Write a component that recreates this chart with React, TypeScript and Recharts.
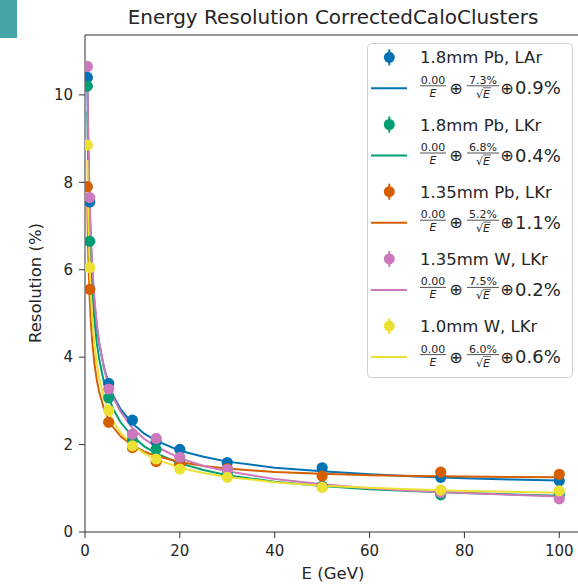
import React from 'react';
import {
  ComposedChart,
  Line,
  Scatter,
  XAxis,
  YAxis,
  ReferenceLine,
  Legend,
} from 'recharts';

// ---- data ----
const E_POINTS = [0.5, 1, 5, 10, 15, 20, 30, 50, 75, 100];

const seriesLabels = ['1.8mm Pb, LAr', '1.8mm Pb, LKr', '1.35mm Pb, LKr', '1.35mm W, LKr', '1.0mm W, LKr'];
const seriesColors = ['#0173B2', '#029E73', '#D55E00', '#CC78BC', '#ECE133'];
const noiseTerms = ['0.00', '0.00', '0.00', '0.00', '0.00'];
const stochasticTerms = ['7.3%', '6.8%', '5.2%', '7.5%', '6.0%'];
const constantTerms = ['0.9%', '0.4%', '1.1%', '0.2%', '0.6%'];

const blueRes = [10.4, 7.55, 3.4, 2.56, 2.07, 1.89, 1.59, 1.47, 1.25, 1.17];
const greenRes = [10.2, 6.65, 3.07, 2.1, 1.89, 1.58, 1.32, 1.05, 0.85, 0.86];
const orangeRes = [7.9, 5.55, 2.51, 1.93, 1.61, 1.55, 1.45, 1.28, 1.37, 1.32];
const pinkRes = [10.65, 7.65, 3.27, 2.24, 2.14, 1.71, 1.43, 1.03, 0.9, 0.76];
const yellowRes = [8.85, 6.05, 2.78, 1.97, 1.67, 1.44, 1.25, 1.02, 0.96, 0.94];

// fit curves
const FIT_E = [0.5, 0.6, 0.75, 1, 1.25, 1.5, 2, 2.5, 3, 4, 5, 6, 7.5, 10, 12.5, 15, 20, 25, 30, 40, 50, 60, 70, 80, 90, 100];
const blueFit = [10.36, 9.47, 8.48, 7.36, 6.59, 6.03, 5.24, 4.7, 4.31, 3.76, 3.39, 3.11, 2.81, 2.48, 2.25, 2.09, 1.86, 1.72, 1.61, 1.47, 1.39, 1.32, 1.27, 1.23, 1.2, 1.18];
const greenFit = [9.62, 8.79, 7.86, 6.81, 6.1, 5.57, 4.82, 4.32, 3.95, 3.42, 3.07, 2.8, 2.51, 2.19, 1.96, 1.8, 1.57, 1.42, 1.3, 1.15, 1.05, 0.98, 0.93, 0.89, 0.86, 0.83];
const orangeFit = [7.44, 6.8, 6.1, 5.32, 4.78, 4.39, 3.84, 3.47, 3.2, 2.82, 2.57, 2.39, 2.19, 1.98, 1.84, 1.74, 1.6, 1.51, 1.45, 1.37, 1.33, 1.3, 1.28, 1.27, 1.26, 1.25];
const pinkFit = [10.61, 9.68, 8.66, 7.5, 6.71, 6.13, 5.31, 4.75, 4.33, 3.76, 3.36, 3.07, 2.75, 2.38, 2.13, 1.95, 1.69, 1.51, 1.39, 1.21, 1.09, 1.0, 0.94, 0.89, 0.85, 0.81];
const yellowFit = [8.51, 7.77, 6.95, 6.03, 5.4, 4.94, 4.28, 3.84, 3.52, 3.06, 2.75, 2.52, 2.27, 1.99, 1.8, 1.66, 1.47, 1.35, 1.26, 1.14, 1.06, 1.01, 0.97, 0.94, 0.92, 0.9];

const X_TICKS = [0, 20, 40, 60, 80, 100];
const Y_TICKS = [0, 2, 4, 6, 8, 10];
const X_MAX = 105;
const Y_MAX = 11.37;

const pointSets = [blueRes, greenRes, orangeRes, pinkRes, yellowRes];
const fitSets = [blueFit, greenFit, orangeFit, pinkFit, yellowFit];

const toPoints = (xs: number[], ys: number[]) => xs.map((x, i) => ({ x, y: ys[i] }));

const FONT = '"DejaVu Sans", sans-serif';
const TXT = '#262626';

function FitFormula({ x0, cy, noise, stoch, cons, color }: any) {
  return (
    <g fontFamily={FONT} fill={TXT}>
      <line x1={4} x2={40} y1={cy} y2={cy} stroke={color} strokeWidth={2} />
      <text x={x0 + 13} y={cy - 4.5} fontSize={11} textAnchor="middle">{noise}</text>
      <line x1={x0} x2={x0 + 26} y1={cy - 2.5} y2={cy - 2.5} stroke={TXT} strokeWidth={0.8} />
      <text x={x0 + 13} y={cy + 8.5} fontSize={11} fontStyle="italic" textAnchor="middle">E</text>
      <text x={x0 + 36} y={cy + 5.5} fontSize={16} textAnchor="middle">⊕</text>
      <text x={x0 + 63} y={cy - 4.5} fontSize={11} textAnchor="middle">{stoch}</text>
      <line x1={x0 + 47} x2={x0 + 79} y1={cy - 2.5} y2={cy - 2.5} stroke={TXT} strokeWidth={0.8} />
      <text x={x0 + 63} y={cy + 9.5} fontSize={11} textAnchor="middle">
        <tspan>√</tspan>
        <tspan fontStyle="italic">E</tspan>
      </text>
      <line x1={x0 + 63} x2={x0 + 71} y1={cy - 0.5} y2={cy - 0.5} stroke={TXT} strokeWidth={0.7} />
      <text x={x0 + 87} y={cy + 5.5} fontSize={16} textAnchor="middle">⊕</text>
      <text x={x0 + 95} y={cy + 6} fontSize={18}>{cons}</text>
    </g>
  );
}

function CustomLegend() {
  return (
    <svg width={206} height={336} style={{ display: 'block' }}>
      <rect x={0.5} y={0.5} width={205} height={334} rx={4} fill="#fff" fillOpacity={0.85} stroke="#d0d0d0" />
      {seriesLabels.map((label, i) => {
        const my = 14.3 + 67.2 * i;
        const fy = my + 31;
        const c = seriesColors[i];
        return (
          <g key={label}>
            <line x1={22.3} x2={22.3} y1={my - 8} y2={my + 8} stroke={c} strokeWidth={2} />
            <circle cx={22.3} cy={my} r={5.5} fill={c} />
            <text x={53} y={my + 6} fontSize={16.5} fontFamily={FONT} fill={TXT}>{label}</text>
            <FitFormula x0={53} cy={fy} noise={noiseTerms[i]} stoch={stochasticTerms[i]} cons={constantTerms[i]} color={c} />
          </g>
        );
      })}
    </svg>
  );
}

export default function App() {
  const series = seriesLabels.map((label, i) => ({
    label,
    color: seriesColors[i],
    pts: toPoints(E_POINTS, pointSets[i]),
    fit: toPoints(FIT_E, fitSets[i]),
  }));

  return (
    <div style={{ position: 'absolute', left: 0, top: 0, width: 578, height: 585, overflow: 'hidden', background: '#fff' }}>
      <div style={{ position: 'absolute', left: 0, top: 0, width: 17, height: 38, background: '#47a4a6' }} />
      <ComposedChart width={600} height={585} margin={{ top: 35, right: 17, bottom: 0, left: 0 }}>
        <XAxis
          type="number"
          dataKey="x"
          domain={[0, X_MAX]}
          ticks={X_TICKS}
          allowDataOverflow
          height={53}
          tickSize={6}
          tickMargin={7}
          stroke="#333"
          tick={{ fill: TXT, fontSize: 15, fontFamily: FONT }}
          tickLine={{ stroke: '#333' }}
        />
        <YAxis
          type="number"
          dataKey="y"
          domain={[0, Y_MAX]}
          ticks={Y_TICKS}
          allowDataOverflow
          width={85}
          tickSize={6}
          tickMargin={6}
          stroke="#333"
          tick={{ fill: TXT, fontSize: 15, fontFamily: FONT }}
          tickLine={{ stroke: '#333' }}
        />
        <ReferenceLine y={Y_MAX} stroke="#333" strokeWidth={1.2} />
        {series.map((s) => [
          <Scatter
            key={s.label + '-pts'}
            data={s.pts}
            dataKey="y"
            fill={s.color}
            isAnimationActive={false}
            shape={(p: any) => <circle cx={p.cx} cy={p.cy} r={5.6} fill={s.color} />}
          />,
          <Line
            key={s.label + '-fit'}
            data={s.fit}
            dataKey="y"
            type="linear"
            stroke={s.color}
            strokeWidth={2}
            dot={false}
            activeDot={false}
            isAnimationActive={false}
          />,
        ])}
        <Legend
          layout="horizontal"
          align="center"
          verticalAlign="middle"
          content={() => <CustomLegend />}
          wrapperStyle={{ position: 'absolute', left: 367, top: 43, width: 206, height: 336 }}
        />
      </ComposedChart>
      <svg width={578} height={585} style={{ position: 'absolute', left: 0, top: 0, pointerEvents: 'none' }}>
        <text x={333} y={24} fontSize={20} textAnchor="middle" fontFamily={FONT} fill={TXT}>
          Energy Resolution CorrectedCaloClusters
        </text>
        <text x={333} y={579} fontSize={16.5} textAnchor="middle" fontFamily={FONT} fill={TXT}>
          E (GeV)
        </text>
        <text
          x={35}
          y={283}
          fontSize={16.5}
          textAnchor="middle"
          dominantBaseline="central"
          transform="rotate(-90 35 283)"
          fontFamily={FONT}
          fill={TXT}
        >
          Resolution (%)
        </text>
      </svg>
    </div>
  );
}
